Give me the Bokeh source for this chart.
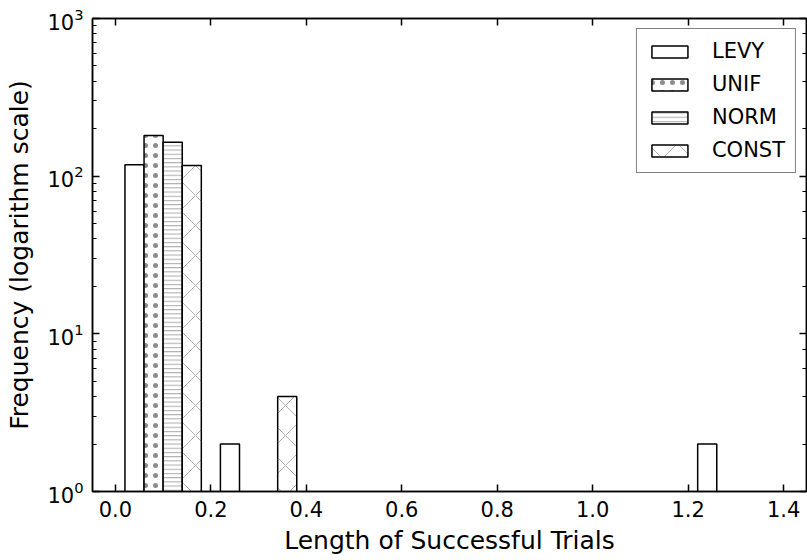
from bokeh.plotting import figure
from bokeh.models import (LogAxis, LinearAxis, SingleIntervalTicker, PrintfTickFormatter,
                          ColumnDataSource, Legend, LogTicker, CustomJSTickFormatter)
from bokeh.embed import file_html
from bokeh.resources import INLINE

# Histogram data (bins of width 0.2 from 0.0 to 1.4)
bin_edges = [0.0, 0.2, 0.4, 0.6, 0.8, 1.0, 1.2, 1.4]
series = ["LEVY", "UNIF", "NORM", "CONST"]
levy = [118, 2, 0, 0, 0, 0, 2]
unif = [181, 0, 0, 0, 0, 0, 0]
norm = [164, 0, 0, 0, 0, 0, 0]
const = [117, 4, 0, 0, 0, 0, 0]
counts = [levy, unif, norm, const]

hatches = [" ", "dot", "horizontal_line", "diagonal_cross"]
hatch_colors = ["black", "black", "#a8a8a8", "#b0b0b0"]
hatch_scales = [12, 10, 4.2, 30]
hatch_alphas = [1, 0.45, 1, 1]

FONT = "DejaVu Sans"

p = figure(width=807, height=560, x_range=(-0.048, 1.448), y_range=(1, 1000),
           y_axis_type="log", output_backend="svg", toolbar_location=None,
           min_border_left=92, min_border_right=1, min_border_top=18, min_border_bottom=69)
p.background_fill_color = "white"
p.border_fill_color = "white"
p.outline_line_color = "black"
p.outline_line_width = 1.5
p.xgrid.visible = False
p.ygrid.visible = False

nser = len(series)
items = []
for k, name in enumerate(series):
    xs, tops = [], []
    for b in range(len(bin_edges) - 1):
        w = bin_edges[b + 1] - bin_edges[b]
        bw = 0.8 * w / nser
        if counts[k][b] > 0:
            xs.append(bin_edges[b] + 0.1 * w + (k + 0.5) * bw)
            tops.append(counts[k][b])
    src = ColumnDataSource(dict(x=xs, top=tops))
    bw = 0.8 * (bin_edges[1] - bin_edges[0]) / nser
    r = p.vbar(x="x", top="top", bottom=1, width=bw, source=src,
               fill_color="white", line_color="black", line_width=1.5,
               hatch_pattern=hatches[k], hatch_color=hatch_colors[k],
               hatch_scale=hatch_scales[k], hatch_alpha=hatch_alphas[k], hatch_weight=1)
    items.append((name, [r]))

legend = Legend(items=items, location="top_right")
legend.label_text_font = FONT
legend.label_text_font_size = "21px"
legend.label_text_color = "black"
legend.glyph_width = 45
legend.glyph_height = 15
legend.label_standoff = 20
legend.spacing = 9
legend.padding = 10
legend.margin = 10
legend.border_line_color = "black"
legend.border_line_width = 1.5
legend.background_fill_alpha = 1
p.add_layout(legend)

def style_axis(ax, labels=True):
    ax.axis_line_color = "black"
    ax.axis_line_width = 1.5
    ax.major_tick_in = 7
    ax.major_tick_out = 0
    ax.minor_tick_in = 4
    ax.minor_tick_out = 0
    ax.major_tick_line_width = 1.5
    ax.minor_tick_line_width = 1.2
    ax.major_label_text_font = FONT
    ax.major_label_text_font_size = "21px" if labels else "1px"
    ax.major_label_text_color = "black"
    ax.axis_label_text_font = FONT
    ax.axis_label_text_font_size = "25px"
    ax.axis_label_text_font_style = "normal"
    ax.axis_label_text_color = "black"
    if not labels:
        ax.major_label_standoff = 0
        ax.major_label_text_alpha = 0
        ax.formatter = CustomJSTickFormatter(code="return ''")

xax = p.xaxis[0]
xax.ticker = SingleIntervalTicker(interval=0.2, num_minor_ticks=0)
xax.formatter = PrintfTickFormatter(format="%.1f")
xax.axis_label = "Length of Successful Trials"
style_axis(xax)
xax.major_label_standoff = 9
xax.axis_label_standoff = 6

yax = p.yaxis[0]
yax.axis_label = "Frequency (logarithm scale)"
style_axis(yax)
yax.major_label_standoff = 9
yax.axis_label_standoff = 10

top_ax = LinearAxis(ticker=SingleIntervalTicker(interval=0.2, num_minor_ticks=0))
style_axis(top_ax, labels=False)
p.add_layout(top_ax, "above")

right_ax = LogAxis(ticker=LogTicker())
style_axis(right_ax, labels=False)
p.add_layout(right_ax, "right")

open("out.html", "w").write(file_html(p, INLINE))
